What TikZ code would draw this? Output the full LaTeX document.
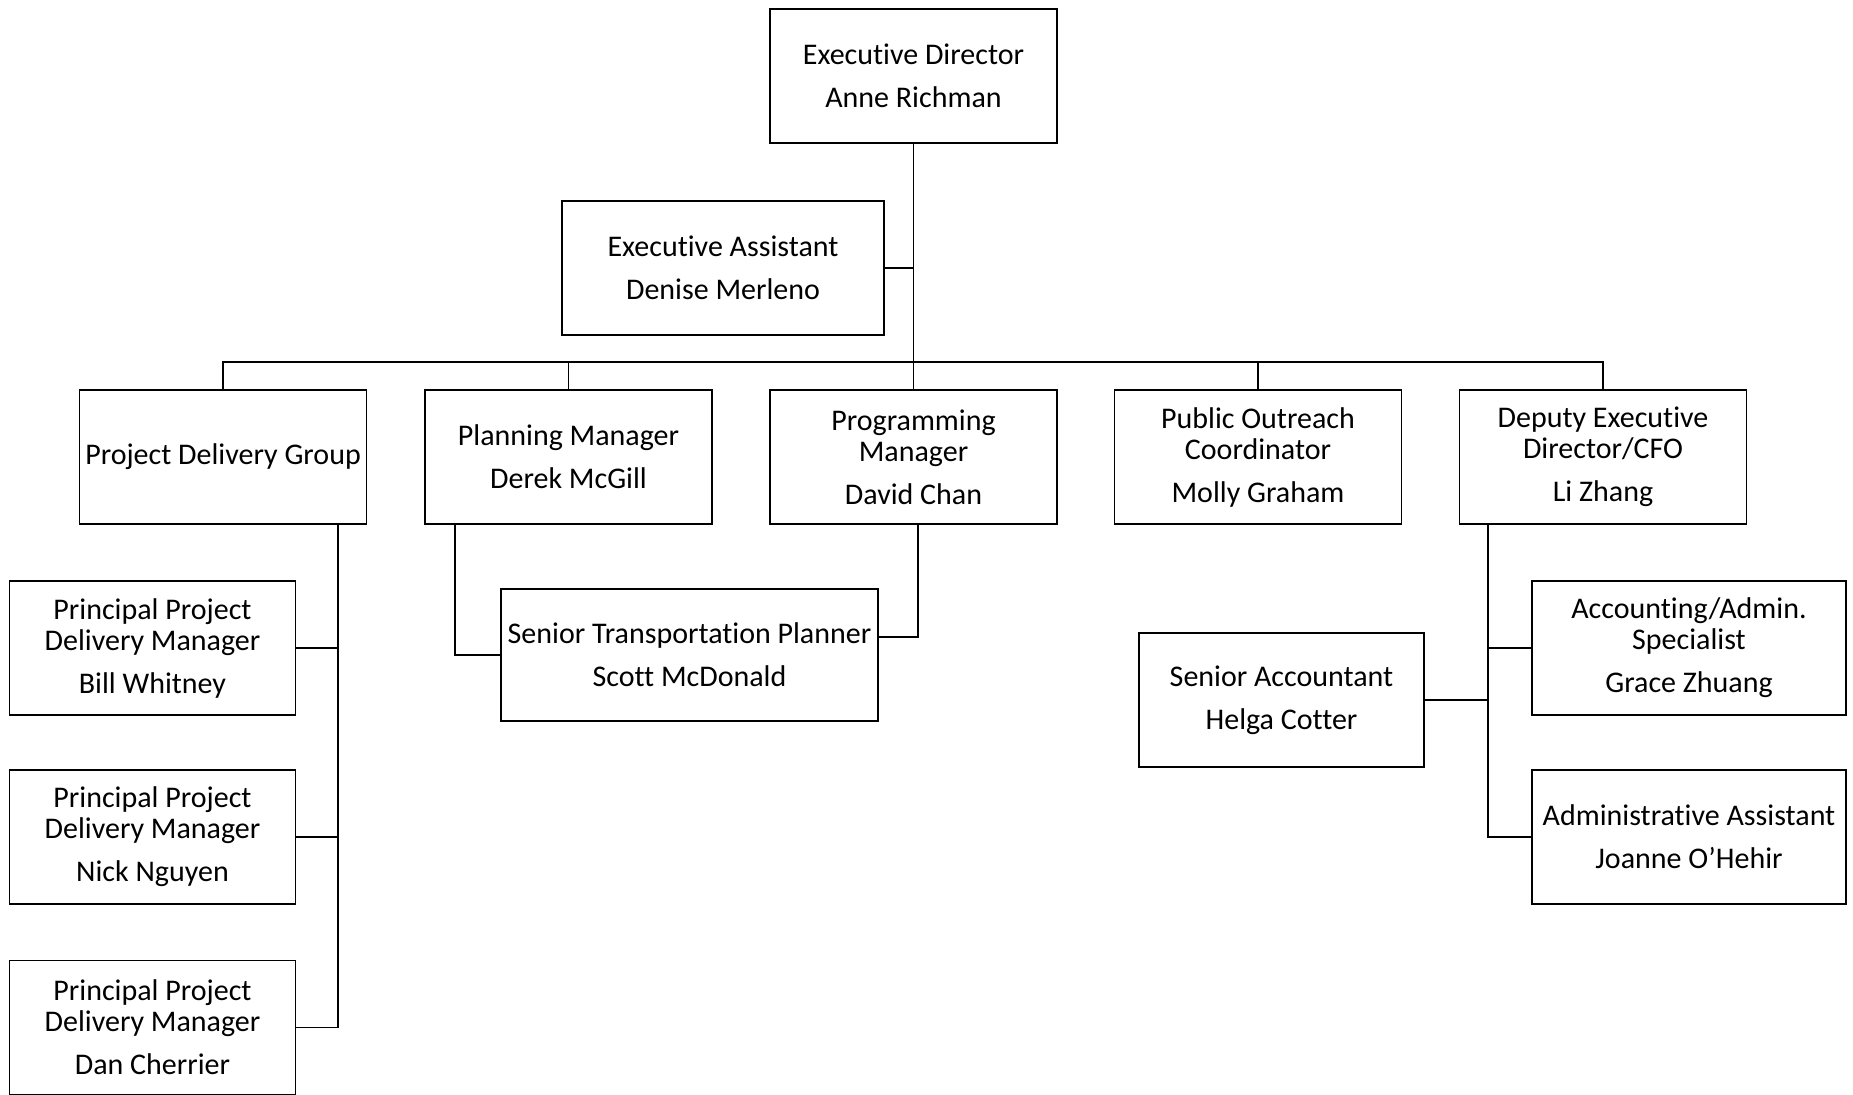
\documentclass[tikz,border=0pt]{standalone}
\usepackage{fontspec}
\setmainfont{Carlito}[Ligatures={NoCommon}]
\usetikzlibrary{calc,positioning}

\tikzset{
  orgbox/.style={draw=black,line width=1.3pt,minimum width=287pt,minimum height=134pt,
    align=center,inner sep=0pt,font=\fontsize{30}{31}\selectfont},
  link/.style={draw=black,line width=1.3pt}
}
\newcommand{\orgname}[1]{\\[12pt]#1}

\begin{document}
\begin{tikzpicture}[x=1pt,y=-1pt]
\useasboundingbox (0,0) rectangle (1853,1095);

% top
\node[orgbox] (ed) at (913.5,76) {Executive Director\orgname{Anne Richman}};
\node[orgbox,minimum width=322pt] (ea) at (723,268) {Executive Assistant\orgname{Denise Merleno}};

% second row
\node[orgbox] (pdg) at (223,457) {Project Delivery Group};
\node[orgbox] (pm) at (568.5,457) {Planning Manager\orgname{Derek McGill}};
\node[orgbox] (prm) at (913.5,457) {Programming\\Manager\orgname{David Chan}};
\node[orgbox] (po) at (1258,457) {Public Outreach\\Coordinator\orgname{Molly Graham}};
\node[orgbox] (dep) at (1603,457) {Deputy Executive\\Director/CFO\orgname{Li Zhang}};

% third row
\node[orgbox,minimum width=377pt,minimum height=132pt] (stp) at (689.5,655) {Senior Transportation Planner\orgname{Scott McDonald}};
\node[orgbox,minimum width=286pt] (ppdm1) at (152.5,648) {Principal Project\\Delivery Manager\orgname{Bill Whitney}};
\node[orgbox,minimum width=286pt] (ppdm2) at (152.5,837) {Principal Project\\Delivery Manager\orgname{Nick Nguyen}};
\node[orgbox,minimum width=286pt] (ppdm3) at (152.5,1027.5) {Principal Project\\Delivery Manager\orgname{Dan Cherrier}};
\node[orgbox,minimum width=285pt] (sa) at (1281.5,700) {Senior Accountant\orgname{Helga Cotter}};
\node[orgbox,minimum width=314pt] (aas) at (1689,648) {Accounting/Admin.\\Specialist\orgname{Grace Zhuang}};
\node[orgbox,minimum width=314pt] (adm) at (1689,837) {Administrative Assistant\orgname{Joanne O’Hehir}};

% junctions
\coordinate (bus) at (913.5,362);
\coordinate (pdgx) at (338,0);
\coordinate (pmx) at (455,0);
\coordinate (prmj) at (918,637);
\coordinate (depx) at (1488,0);

% connectors
\draw[link] (ed.south) -- (bus);
\draw[link] (ea.east) -- (ea.east -| bus);
\draw[link] (pdg.north) |- (bus) -| (dep.north);
\foreach \n in {pm,prm,po}
  \draw[link] (\n.north) -- (\n.north |- bus);

\draw[link] (pdg.south -| pdgx) -- (ppdm3.east -| pdgx) -- (ppdm3.east);
\foreach \n in {ppdm1,ppdm2}
  \draw[link] (\n.east) -- (\n.east -| pdgx);

\draw[link] (pm.south -| pmx) |- (stp.west);
\draw[link] (prm.south -| prmj) -- (prmj) -- (prmj -| stp.east);

\draw[link] (dep.south -| depx) |- (adm.west);
\draw[link] (aas.west) -- (aas.west -| depx);
\draw[link] (sa.east) -- (sa.east -| depx);
\end{tikzpicture}
\end{document}
